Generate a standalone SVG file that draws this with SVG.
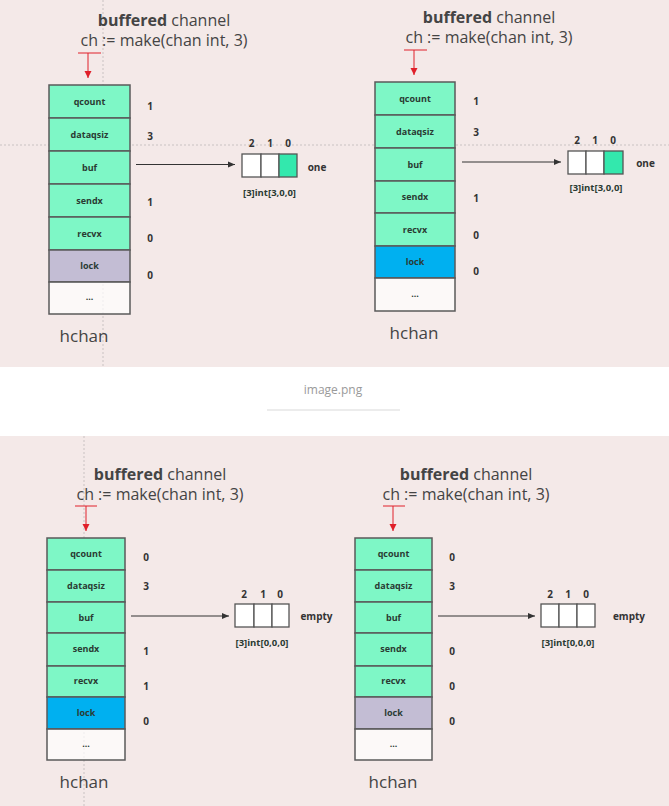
<svg xmlns="http://www.w3.org/2000/svg" width="669" height="806" viewBox="0 0 669 806">
<defs>
<style>
.bg{fill:#f4e9e8}
.guide{stroke:#c9c2c2;stroke-width:1;stroke-dasharray:2 2;fill:none}
.row{stroke:#5a5a5a;stroke-width:1.5}
.g{fill:#7ef7c6}
.lk{fill:#c3bdd4}
.bl{fill:#00b0f0}
.dot{fill:#ffffff;fill-opacity:0.7}
.lbl{font-family:"Open Sans","DejaVu Sans",sans-serif;font-size:9px;font-weight:bold;fill:#2a3b33;text-anchor:middle}
.arrlbl{font-family:"Open Sans","DejaVu Sans",sans-serif;font-size:9.5px;font-weight:bold;fill:#2a3b33;text-anchor:middle}
.num{font-family:"Open Sans","DejaVu Sans",sans-serif;font-size:10px;font-weight:bold;fill:#333;text-anchor:middle}
.title{font-family:"Open Sans","DejaVu Sans",sans-serif;font-size:16px;fill:#444;text-anchor:middle}
.hchan{font-family:"Open Sans","DejaVu Sans",sans-serif;font-size:17px;fill:#444;text-anchor:middle}
.cell{fill:#fff;stroke:#555;stroke-width:1.3}
.cellf{fill:#33e8ad;stroke:#555;stroke-width:1.3}
.red{stroke:#e0202a;stroke-width:1;fill:none}
.arr{stroke:#333;stroke-width:1;fill:none}
.cap{font-family:"Open Sans","DejaVu Sans",sans-serif;font-size:12px;fill:#9a9a9a;text-anchor:middle}
</style>
<marker id="ra" markerWidth="8" markerHeight="8" refX="7" refY="4" orient="auto" markerUnits="userSpaceOnUse">
<path d="M0,0.5 L7,4 L0,7.5 z" fill="#e0202a"/>
</marker>
<marker id="ba" markerWidth="8" markerHeight="8" refX="7" refY="4" orient="auto" markerUnits="userSpaceOnUse">
<path d="M0,1 L7,4 L0,7 z" fill="#333"/>
</marker>
</defs>

<rect class="bg" x="0" y="0" width="669" height="367"/>
<rect x="0" y="367" width="669" height="69" fill="#ffffff"/>
<rect class="bg" x="0" y="436" width="669" height="370"/>

<g id="guides">
<line class="guide" x1="103" y1="0" x2="103" y2="367"/>
<line class="guide" x1="0" y1="145" x2="669" y2="145"/>
<line class="guide" x1="84" y1="436" x2="84" y2="806"/>
</g>

<g id="caption">
<text class="cap" x="333" y="394">image.png</text>
<line x1="267" y1="410" x2="400" y2="410" stroke="#e6e6e6" stroke-width="1.5"/>
</g>

<!-- Top-left panel -->
<g id="tl-title">
<text class="title" x="164" y="26"><tspan font-weight="bold">buffered</tspan> channel</text>
<text class="title" x="164" y="46">ch := make(chan int, 3)</text>
</g>
<g id="tl-hchan">
<rect class="row g" x="49" y="85" width="81" height="33"/>
<rect class="row g" x="49" y="118" width="81" height="33"/>
<rect class="row g" x="49" y="151" width="81" height="33"/>
<rect class="row g" x="49" y="184" width="81" height="33"/>
<rect class="row g" x="49" y="217" width="81" height="33"/>
<rect class="row lk" x="49" y="250" width="81" height="32"/>
<rect class="row dot" x="49" y="282" width="81" height="32"/>
<text class="lbl" x="89.5" y="105">qcount</text>
<text class="lbl" x="89.5" y="138">dataqsiz</text>
<text class="lbl" x="89.5" y="171">buf</text>
<text class="lbl" x="89.5" y="204">sendx</text>
<text class="lbl" x="89.5" y="237">recvx</text>
<text class="lbl" x="89.5" y="269">lock</text>
<text class="lbl" x="89.5" y="300">...</text>
<text class="num" x="150" y="110">1</text>
<text class="num" x="150" y="140">3</text>
<text class="num" x="150" y="206">1</text>
<text class="num" x="150" y="242">0</text>
<text class="num" x="150" y="279">0</text>
<text class="hchan" x="84" y="342">hchan</text>
</g>
<g id="tl-array">
<rect class="cell" x="242" y="154" width="19" height="23"/>
<rect class="cell" x="261" y="154" width="18" height="23"/>
<rect class="cellf" x="279" y="154" width="18" height="23"/>
<text class="num" x="251.5" y="147">2</text>
<text class="num" x="270" y="147">1</text>
<text class="num" x="288" y="147">0</text>
<text class="num" x="317" y="171" font-size="9">one</text>
<text class="arrlbl" x="269.5" y="196">[3]int[3,0,0]</text>
</g>

<!-- Top-right panel -->
<g id="tr-title">
<text class="title" x="489" y="23"><tspan font-weight="bold">buffered</tspan> channel</text>
<text class="title" x="489" y="43">ch := make(chan int, 3)</text>
</g>
<g id="tr-hchan">
<rect class="row g" x="375" y="82" width="80" height="33"/>
<rect class="row g" x="375" y="115" width="80" height="33"/>
<rect class="row g" x="375" y="148" width="80" height="33"/>
<rect class="row g" x="375" y="181" width="80" height="32"/>
<rect class="row g" x="375" y="213" width="80" height="33"/>
<rect class="row bl" x="375" y="246" width="80" height="32"/>
<rect class="row dot" x="375" y="278" width="80" height="33"/>
<text class="lbl" x="415" y="102">qcount</text>
<text class="lbl" x="415" y="135">dataqsiz</text>
<text class="lbl" x="415" y="168">buf</text>
<text class="lbl" x="415" y="200">sendx</text>
<text class="lbl" x="415" y="233">recvx</text>
<text class="lbl" x="415" y="265">lock</text>
<text class="lbl" x="415" y="297">...</text>
<text class="num" x="476" y="105">1</text>
<text class="num" x="476" y="136">3</text>
<text class="num" x="476" y="202">1</text>
<text class="num" x="476" y="239">0</text>
<text class="num" x="476" y="275">0</text>
<text class="hchan" x="414" y="339">hchan</text>
</g>
<g id="tr-array">
<rect class="cell" x="568" y="151" width="18" height="23"/>
<rect class="cell" x="586" y="151" width="18" height="23"/>
<rect class="cellf" x="604" y="151" width="19" height="23"/>
<text class="num" x="577" y="144">2</text>
<text class="num" x="595" y="144">1</text>
<text class="num" x="613" y="144">0</text>
<text class="num" x="645.5" y="167" font-size="9">one</text>
<text class="arrlbl" x="596" y="191">[3]int[3,0,0]</text>
</g>

<!-- Bottom-left panel -->
<g id="bl-title">
<text class="title" x="160" y="480"><tspan font-weight="bold">buffered</tspan> channel</text>
<text class="title" x="160" y="500">ch := make(chan int, 3)</text>
</g>
<g id="bl-hchan">
<rect class="row g" x="47" y="538" width="78" height="32"/>
<rect class="row g" x="47" y="570" width="78" height="32"/>
<rect class="row g" x="47" y="602" width="78" height="31"/>
<rect class="row g" x="47" y="633" width="78" height="33"/>
<rect class="row g" x="47" y="666" width="78" height="31"/>
<rect class="row bl" x="47" y="697" width="78" height="32"/>
<rect class="row dot" x="47" y="729" width="78" height="31"/>
<text class="lbl" x="86" y="557">qcount</text>
<text class="lbl" x="86" y="589">dataqsiz</text>
<text class="lbl" x="86" y="621">buf</text>
<text class="lbl" x="86" y="652">sendx</text>
<text class="lbl" x="86" y="684">recvx</text>
<text class="lbl" x="86" y="716">lock</text>
<text class="lbl" x="86" y="747">...</text>
<text class="num" x="146" y="561">0</text>
<text class="num" x="146" y="590">3</text>
<text class="num" x="146" y="655">1</text>
<text class="num" x="146" y="690">1</text>
<text class="num" x="146" y="725">0</text>
<text class="hchan" x="84" y="788">hchan</text>
</g>
<g id="bl-array">
<rect class="cell" x="235" y="604" width="19" height="23"/>
<rect class="cell" x="254" y="604" width="18" height="23"/>
<rect class="cell" x="272" y="604" width="17" height="23"/>
<text class="num" x="244" y="598">2</text>
<text class="num" x="263" y="598">1</text>
<text class="num" x="280" y="598">0</text>
<text class="num" x="316.5" y="620" font-size="9">empty</text>
<text class="arrlbl" x="262" y="646">[3]int[0,0,0]</text>
</g>

<!-- Bottom-right panel -->
<g id="br-title">
<text class="title" x="466" y="480"><tspan font-weight="bold">buffered</tspan> channel</text>
<text class="title" x="466" y="500">ch := make(chan int, 3)</text>
</g>
<g id="br-hchan">
<rect class="row g" x="355" y="538" width="77" height="32"/>
<rect class="row g" x="355" y="570" width="77" height="32"/>
<rect class="row g" x="355" y="602" width="77" height="31"/>
<rect class="row g" x="355" y="633" width="77" height="33"/>
<rect class="row g" x="355" y="666" width="77" height="31"/>
<rect class="row lk" x="355" y="697" width="77" height="32"/>
<rect class="row dot" x="355" y="729" width="77" height="31"/>
<text class="lbl" x="393.5" y="557">qcount</text>
<text class="lbl" x="393.5" y="589">dataqsiz</text>
<text class="lbl" x="393.5" y="621">buf</text>
<text class="lbl" x="393.5" y="652">sendx</text>
<text class="lbl" x="393.5" y="684">recvx</text>
<text class="lbl" x="393.5" y="716">lock</text>
<text class="lbl" x="393.5" y="747">...</text>
<text class="num" x="452" y="561">0</text>
<text class="num" x="452" y="590">3</text>
<text class="num" x="452" y="655">0</text>
<text class="num" x="452" y="690">0</text>
<text class="num" x="452" y="725">0</text>
<text class="hchan" x="393" y="788">hchan</text>
</g>
<g id="br-array">
<rect class="cell" x="541" y="604" width="18" height="23"/>
<rect class="cell" x="559" y="604" width="18" height="23"/>
<rect class="cell" x="577" y="604" width="18" height="23"/>
<text class="num" x="550" y="598">2</text>
<text class="num" x="568" y="598">1</text>
<text class="num" x="586" y="598">0</text>
<text class="num" x="629" y="620" font-size="9">empty</text>
<text class="arrlbl" x="568" y="646">[3]int[0,0,0]</text>
</g>

<g id="connectors">
<line class="red" x1="78" y1="53" x2="101" y2="53"/>
<line class="red" x1="88" y1="53" x2="88" y2="78" marker-end="url(#ra)"/>
<line class="red" x1="404" y1="50" x2="427" y2="50"/>
<line class="red" x1="414" y1="50" x2="414" y2="75" marker-end="url(#ra)"/>
<line class="red" x1="75" y1="506" x2="97" y2="506"/>
<line class="red" x1="86" y1="506" x2="86" y2="531" marker-end="url(#ra)"/>
<line class="red" x1="383" y1="506" x2="405" y2="506"/>
<line class="red" x1="393" y1="506" x2="393" y2="531" marker-end="url(#ra)"/>
<line class="arr" x1="136" y1="164.5" x2="235" y2="164.5" marker-end="url(#ba)"/>
<line class="arr" x1="462" y1="162" x2="561" y2="162" marker-end="url(#ba)"/>
<line class="arr" x1="131" y1="616" x2="229" y2="616" marker-end="url(#ba)"/>
<line class="arr" x1="438" y1="616" x2="535" y2="616" marker-end="url(#ba)"/>
</g>
</svg>
